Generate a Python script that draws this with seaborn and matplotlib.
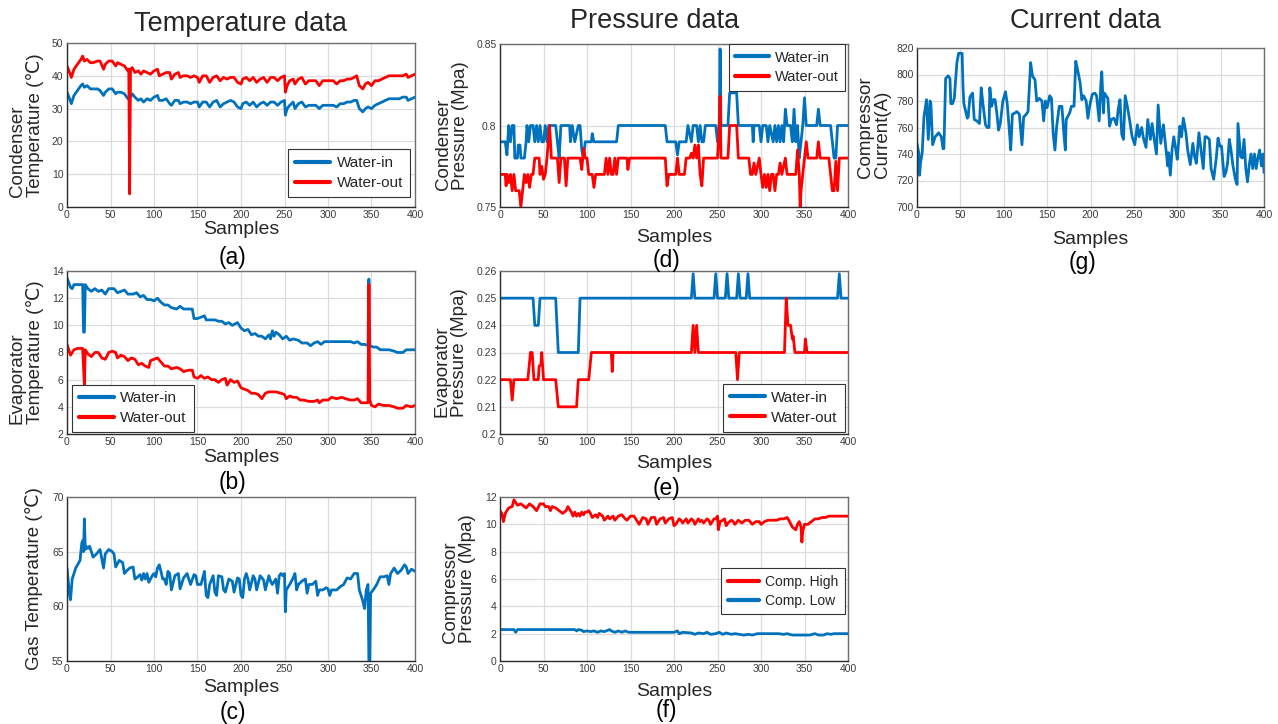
import matplotlib
matplotlib.use("Agg")
import matplotlib.pyplot as plt
import seaborn as sns

sns.set_theme(style="whitegrid")
plt.rcParams['font.family'] = ['Liberation Sans', 'DejaVu Sans']

BLUE = "#0072BD"
RED = "#FF0000"

# ---------------- (a) condenser temperature ----------------
cond_t_in_x = [0,3,5,8,12,16,18,20,23,27,30,35,38,42,44,48,52,56,58,62,66,70,72,75,78,82,85,88,92,96,
               100,104,106,110,114,118,120,124,128,130,134,138,142,146,150,152,156,160,164,168,172,176,
               180,184,188,192,196,200,202,206,210,214,218,222,226,230,234,238,242,246,250,251,253,256,
               260,262,266,270,274,278,282,286,290,294,298,302,306,310,314,318,322,326,330,333,336,340,
               343,346,350,354,358,362,366,370,374,378,382,386,390,392,396,400]
cond_t_in_y = [35,33,31.5,34,35.5,37,37.5,36.5,37,36,36,36,35.5,34,35,36,36,34.5,35,35,34.5,33,33,34.5,
               33.5,32.5,33,32,33,32.5,33.5,34,32.5,32.5,33,31.5,31,32.5,32.5,31.5,32,32,31.5,32,32,30.5,
               32,32,30.5,32,32.5,30.5,31.5,32,32.5,32,30.5,30,31.5,32,31,32,30.5,31.5,32,31,32,32,31,32,
               32.5,28,30,31,32,30,31.5,32,30.5,31,31,31,30,31,31,31,31,30.5,31.5,31.5,32,32,32.5,32.5,30,
               29,30,30.5,30,31,31.5,32,32.5,33,33,33,33,33.5,33.5,32.5,33,33.5]
cond_t_out_x = [0,3,5,8,12,16,18,20,23,27,30,35,38,42,44,48,52,56,58,62,66,70,71,72,73,75,78,82,85,88,
                92,96,100,104,106,110,114,118,120,124,128,130,134,138,142,146,150,152,156,160,164,168,
                172,176,180,184,188,192,196,200,202,206,210,214,218,222,226,230,234,238,242,246,250,251,
                253,256,260,262,266,270,274,278,282,286,290,294,298,302,306,310,314,318,322,326,330,333,
                336,340,343,346,350,354,358,362,366,370,374,378,382,386,390,392,396,400]
cond_t_out_y = [43,41,39.5,42,43.5,45,46,44.5,45,44,44,44.5,44.5,42,43.5,44.5,44.5,43,44,43.5,43,41.5,42,4,
                42,42.5,41,41.5,40.5,41.5,41,40.5,41.5,42,40,40.5,41,41,39,40.5,41,39.5,40,40,39.5,40,39.5,
                38,40,40,38,39.5,40,38.5,39.5,39,39.5,39.5,38,37.5,39,39.5,38.5,39.5,38,39,39.5,38,39.5,
                39.5,38.5,39.5,40,35,37,38.5,39,37.5,39,39.5,37.5,38.5,38.5,38.5,37,38.5,38.5,38.5,38.5,
                37.5,38.5,38.5,39,39,39.5,40,37,36,37.5,38,37,38.5,38.5,39,39.5,40,40,40,40,40,40.5,39.5,
                40,40.5]

# ---------------- (b) evaporator temperature ----------------
evap_t_in_x = [0,4,6,8,18,19,20,21,24,28,32,36,40,44,48,54,58,62,66,70,76,80,84,88,92,96,100,104,108,112,
               116,120,126,130,134,140,144,146,150,154,158,160,166,170,174,178,182,186,190,196,200,204,
               208,212,216,220,224,228,232,234,236,238,240,244,248,252,256,260,266,270,276,280,284,288,
               292,296,300,310,320,326,330,334,338,342,346,347,348,352,356,360,370,376,380,386,390,400]
evap_t_in_y = [13.5,12.8,12.7,13,13,9.5,9.5,13,12.7,12.5,12.7,12.5,12.6,12.3,12.7,12.7,12.4,12.5,12.6,12.3,
               12.3,12.4,12.1,12.2,11.9,11.9,11.8,12,11.7,11.5,11.5,11.3,11.2,11.4,11.2,11.2,11.2,10.5,
               10.5,10.6,10.7,10.4,10.4,10.4,10.3,10.3,10.1,10.2,10.0,10.2,9.8,9.6,9.7,9.3,9.4,9.2,9.2,9.0,
               9.3,9.0,9.6,9.2,9.5,9.3,9.0,9.2,8.9,9.0,8.9,8.7,8.7,8.5,8.7,8.8,8.6,8.8,8.8,8.8,8.8,8.8,8.7,
               8.8,8.6,8.6,8.5,13.4,8.5,8.4,8.4,8.2,8.2,8.1,8.0,8.0,8.2,8.2]
evap_t_out_x = [0,4,8,12,18,20,21,24,28,32,36,40,44,48,52,56,58,62,66,70,74,78,82,86,90,94,96,100,104,108,
                112,116,120,126,130,134,140,144,146,150,154,158,162,166,170,174,178,182,184,188,192,196,
                200,204,208,212,216,220,224,228,232,240,246,250,252,256,260,264,268,272,278,284,288,290,
                294,300,304,310,316,320,326,330,334,338,342,346,347,348,350,354,358,364,370,376,380,386,
                390,396,400]
evap_t_out_y = [8.6,7.8,8.2,8.3,8.3,5.6,8.2,7.9,7.7,8.0,8.0,7.6,7.5,8.0,8.1,8.0,7.6,7.8,7.7,7.4,7.6,7.5,7.1,
                7.2,7.0,6.9,7.4,7.5,7.6,7.3,7.0,7.0,6.8,6.9,6.8,6.6,6.7,6.7,6.2,6.1,6.3,6.1,6.2,6.0,6.0,5.8,
                6.0,6.1,5.6,6.0,5.8,5.9,5.4,5.3,5.2,5.0,5.0,4.9,4.6,5.0,5.1,5.1,5.0,4.9,4.6,4.8,4.7,4.7,4.5,
                4.5,4.4,4.4,4.5,4.3,4.5,4.5,4.7,4.6,4.7,4.6,4.5,4.5,4.6,4.3,4.3,4.3,13.0,4.5,4.1,4.0,4.2,4.1,
                4.1,4.0,3.9,3.9,4.1,4.0,4.1]

# ---------------- (c) gas temperature ----------------
gas_t_x = [0,3,4,6,10,15,17,18,19,20,21,22,24,26,30,34,38,42,44,48,52,54,56,60,64,66,68,72,76,78,80,84,86,
           88,90,92,94,98,100,102,104,106,108,110,112,114,116,118,120,124,128,130,134,138,140,142,146,148,
           150,154,158,160,162,164,168,170,172,174,178,180,182,186,190,192,196,198,200,202,204,206,208,210,
           214,216,218,222,226,228,232,234,236,240,242,244,246,248,250,251,252,256,260,262,264,266,270,274,
           276,278,282,286,288,290,294,298,300,302,304,310,314,318,322,326,330,334,336,340,342,344,346,347,
           348,349,352,356,360,364,368,370,372,376,380,384,388,390,392,396,400]
gas_t_y = [63.5,61,60.6,62.5,63.5,64.2,65.8,66,65,68,65.2,65.5,65.3,65.5,64.5,64.8,65.2,63.5,64.8,65.2,65.0,
           64.8,63.6,64.2,64.0,63.0,63.2,63.5,63.6,62.5,62.6,62.9,62.4,63.0,62.5,63.0,62.2,62.8,63.0,62.7,
           63.5,63.8,63.2,62.5,62.5,62.0,63.2,63.0,61.5,62.8,63.0,61.6,62.6,63.0,62.5,62.0,62.9,62.8,62.0,
           62.0,63.2,61.0,60.8,62.0,62.8,61.3,61.0,62.8,62.7,61.5,61.3,62.5,62.3,61.3,62.6,62.5,61.0,60.8,
           62.5,63.0,62.5,61.5,62.8,62.5,61.5,62.8,62.4,61.5,62.8,62.3,62.0,62.5,61.2,62.8,63.0,62.8,63.0,
           59.5,61.5,62.0,62.6,63.0,61.5,62.0,62.3,62.5,61.2,62.0,62.0,62.3,61.0,61.5,61.5,61.7,61.6,61.0,
           61.5,61.5,61.8,62.0,62.6,62.5,63.0,63.0,61.5,60.5,59.8,61.5,62.0,55.0,55.0,61.2,61.5,62.0,62.7,
           62.7,62.8,62.0,63.0,63.5,63.0,63.3,63.8,63.6,63.0,63.4,63.2]

# ---------------- (d) condenser pressure ----------------
cond_p_in_x = [0,6,8,10,12,14,16,17,20,21,23,24,28,30,31,33,35,38,40,42,44,46,48,50,52,54,56,64,66,68,70,
               80,81,83,86,90,92,94,96,98,105,106,108,134,136,190,192,202,204,206,214,216,220,222,226,228,
               230,232,234,236,248,250,252,253,254,262,264,272,274,290,291,292,298,300,302,306,308,310,314,
               316,318,320,322,324,326,328,330,334,336,338,340,342,344,346,348,350,352,364,366,368,380,382,
               384,386,388,400]
cond_p_in_y = [0.79,0.79,0.782,0.80,0.79,0.80,0.80,0.78,0.78,0.788,0.788,0.78,0.78,0.79,0.80,0.79,0.80,0.80,
               0.79,0.80,0.79,0.80,0.79,0.79,0.80,0.79,0.80,0.80,0.79,0.78,0.80,0.80,0.79,0.80,0.79,0.80,
               0.80,0.785,0.78,0.79,0.79,0.795,0.79,0.79,0.80,0.80,0.79,0.79,0.782,0.79,0.79,0.80,0.79,0.80,
               0.80,0.79,0.80,0.79,0.79,0.80,0.80,0.79,0.80,0.847,0.80,0.80,0.82,0.82,0.80,0.80,0.79,0.80,
               0.80,0.79,0.80,0.80,0.79,0.80,0.79,0.80,0.79,0.80,0.79,0.80,0.79,0.81,0.80,0.80,0.79,0.81,
               0.79,0.80,0.78,0.79,0.80,0.817,0.80,0.80,0.81,0.80,0.80,0.79,0.78,0.78,0.80,0.80]
cond_p_out_x = [0,6,7,8,10,12,14,16,18,22,24,26,28,30,32,34,36,38,40,45,46,48,50,52,54,57,59,66,68,70,74,
                76,78,92,94,96,98,100,102,106,108,110,120,122,124,126,128,130,132,134,136,146,147,149,190,
                192,194,202,204,206,212,214,218,220,222,224,226,228,230,232,234,250,252,253,254,262,264,
                272,274,286,288,290,292,294,298,300,302,304,306,308,310,312,314,316,318,320,322,324,328,
                330,340,342,344,345,346,348,350,352,354,364,366,368,378,380,382,384,386,388,390,400]
cond_p_out_y = [0.77,0.77,0.763,0.77,0.765,0.77,0.76,0.77,0.76,0.76,0.75,0.76,0.77,0.765,0.77,0.762,0.77,
                0.77,0.78,0.78,0.77,0.775,0.767,0.77,0.78,0.80,0.78,0.78,0.765,0.78,0.78,0.763,0.78,0.78,
                0.773,0.786,0.78,0.78,0.77,0.77,0.762,0.77,0.77,0.78,0.77,0.78,0.77,0.77,0.78,0.77,0.78,
                0.78,0.773,0.78,0.78,0.763,0.77,0.77,0.78,0.77,0.77,0.78,0.78,0.783,0.78,0.788,0.78,0.788,
                0.77,0.763,0.78,0.78,0.80,0.818,0.78,0.78,0.80,0.80,0.78,0.78,0.77,0.77,0.777,0.77,0.78,
                0.77,0.762,0.77,0.762,0.77,0.76,0.77,0.77,0.76,0.77,0.77,0.777,0.77,0.78,0.77,0.77,0.785,
                0.77,0.75,0.76,0.77,0.78,0.79,0.78,0.78,0.79,0.78,0.78,0.77,0.76,0.76,0.778,0.76,0.78,0.78]

# ---------------- (e) evaporator pressure ----------------
evap_p_in_x = [0,38,40,44,46,64,67,90,92,220,222,224,246,248,250,259,261,263,272,274,276,283,285,287,388,
               390,392,400]
evap_p_in_y = [0.25,0.25,0.24,0.24,0.25,0.25,0.23,0.23,0.25,0.25,0.259,0.25,0.25,0.259,0.25,0.25,0.259,
               0.25,0.25,0.259,0.25,0.25,0.259,0.25,0.25,0.259,0.25,0.25]
evap_p_out_x = [0,12,14,16,32,35,37,39,44,45,47,48,50,64,67,88,90,102,105,128,129,130,220,222,224,226,228,
                271,273,275,327,329,331,334,336,337,339,350,351,353,400]
evap_p_out_y = [0.22,0.22,0.2125,0.22,0.22,0.23,0.23,0.22,0.22,0.225,0.2255,0.23,0.22,0.22,0.21,0.21,0.22,
                0.22,0.23,0.23,0.223,0.23,0.23,0.24,0.23,0.24,0.23,0.23,0.22,0.23,0.23,0.25,0.24,0.24,
                0.235,0.236,0.23,0.23,0.235,0.23,0.23]

# ---------------- (f) compressor pressure ----------------
comp_high_x = [0,2,4,6,10,14,16,18,20,24,28,30,34,38,42,46,50,52,56,58,60,64,68,72,76,78,82,84,86,88,90,92,
               94,96,98,100,102,104,106,110,112,114,118,120,124,126,130,132,136,140,144,146,150,154,158,160,
               164,168,170,174,178,180,184,188,190,194,198,200,202,206,208,210,214,216,220,222,224,228,230,
               232,234,238,240,242,246,248,250,251,253,256,258,260,262,266,268,270,274,276,278,282,286,290,
               294,298,300,304,308,312,318,322,326,330,332,336,340,342,344,346,347,348,350,354,358,362,366,
               370,374,378,400]
comp_high_y = [11,10.8,10.2,10.8,11.2,11.3,11.8,11.6,11.4,11.5,11.3,11.2,11.5,11.3,11.0,11.5,11.5,11.3,11.3,
               11.0,11.3,11.2,11.0,10.8,11.0,11.3,10.9,10.6,10.9,10.6,10.8,10.6,10.9,10.7,10.9,10.9,11.0,
               10.8,10.5,10.7,10.5,10.8,10.6,10.3,10.6,10.4,10.6,10.3,10.6,10.7,10.4,10.3,10.6,10.6,10.2,
               10.0,10.5,10.4,10.0,10.5,10.5,10.0,10.4,10.5,10.1,10.4,10.5,9.9,10.0,10.4,10.3,10.1,10.4,
               10.1,10.4,10.3,10.0,10.4,10.2,10.3,10.1,10.4,10.3,10.0,10.4,10.4,10.6,9.6,10.2,10.3,10.4,
               9.9,10.1,10.3,10.2,10.0,10.3,10.2,10.1,10.3,10.3,10.0,10.2,10.2,10.0,10.2,10.3,10.3,10.3,
               10.4,10.4,10.5,10.3,9.8,9.6,10.0,10.2,9.8,8.7,9.5,10.0,10.0,10.2,10.4,10.4,10.5,10.5,10.6,
               10.6]
comp_low_x = [0,16,18,20,80,86,88,90,94,96,100,104,108,112,116,120,124,126,128,132,136,140,144,148,160,180,
              200,204,206,210,220,224,228,234,238,242,248,252,256,260,266,270,280,286,290,296,300,310,320,
              326,330,336,346,356,362,366,372,376,380,384,400]
comp_low_y = [2.3,2.3,2.1,2.3,2.3,2.3,2.2,2.3,2.25,2.15,2.2,2.15,2.2,2.1,2.2,2.15,2.25,2.3,2.2,2.1,2.2,2.1,
              2.2,2.1,2.1,2.1,2.1,2.2,2.0,2.1,2.05,1.95,2.05,2.0,2.1,1.95,2.0,2.1,1.95,2.05,1.95,2.0,1.9,
              1.95,1.9,2.0,2.0,2.0,2.0,1.95,2.0,1.9,1.9,1.9,2.0,1.9,1.9,2.0,1.95,2.0,2.0]

# ---------------- (g) compressor current ----------------
current_x = [0,2,3,4,6,8,11,13,15,16,18,21,25,28,30,31,33,36,38,39,41,43,46,48,52,53,54,58,59,61,
             64,66,69,72,74,76,79,81,83,84,86,88,90,92,94,96,99,102,104,107,108,110,113,115,118,121,123,
             126,128,131,133,136,138,141,144,146,148,150,153,155,157,159,161,164,167,169,171,172,176,178,
             181,183,185,188,190,192,195,197,199,202,205,207,210,212,213,215,216,220,222,224,227,230,232,
             234,236,238,240,243,245,248,251,254,256,259,261,264,266,269,271,273,276,278,281,284,285,289,
             290,292,294,296,298,300,303,305,307,310,312,315,318,320,322,325,328,330,332,334,337,339,342,
             345,347,349,351,354,356,358,360,362,364,367,369,370,373,375,377,379,381,383,385,387,389,391,
             393,395,397,399,400]
current_y = [748,741,724,733,741,768,781,751,780,778,747,753,756,753,744,744,797,799,797,778,778,782,809,816,
             816,791,778,767,768,783,786,766,765,763,790,778,762,760,760,790,776,781,781,771,758,763,780,787,
             778,753,743,770,771,772,770,747,768,770,772,809,799,796,780,782,780,765,780,775,784,782,755,743,
             761,776,776,758,743,766,771,776,776,810,804,794,781,784,780,767,776,785,786,784,765,794,802,771,
             786,782,761,766,767,762,774,781,755,751,784,774,766,753,747,762,753,760,752,745,766,751,763,753,
             740,777,748,762,756,731,741,724,743,753,745,736,761,753,767,756,743,732,748,738,733,756,740,729,
             753,753,751,729,721,737,752,746,746,723,726,733,751,743,732,721,717,763,738,737,751,729,719,732,
             740,729,740,729,737,743,731,740,726]

x_ticks = [0, 50, 100, 150, 200, 250, 300, 350, 400]
x_tick_labels = [str(t) for t in x_ticks]

W, H = 1278, 724
fig = plt.figure(figsize=(W / 100, H / 100), dpi=100)
fig.patch.set_facecolor("white")


def px_rect(left, top, right, bottom):
    return [left / W, 1 - bottom / H, (right - left) / W, (bottom - top) / H]


def new_axes(box):
    ax = fig.add_axes(px_rect(*box))
    ax.set_facecolor("white")
    return ax


def draw(ax, x, y, color, label=None):
    sns.lineplot(x=x, y=y, ax=ax, color=color, linewidth=2.0, estimator=None,
                 sort=False, label=label, legend=label is not None)


def style(ax, box, ylim, yticks, yticklabels, ylabel, ylabel_right_px):
    ax.set_xlim(0, 400)
    ax.set_xticks(x_ticks)
    ax.set_xticklabels(x_tick_labels)
    ax.set_ylim(*ylim)
    ax.set_yticks(yticks)
    ax.set_yticklabels(yticklabels)
    ax.grid(True, color="#dcdcdc", linewidth=0.9)
    ax.tick_params(direction="in", length=3, width=0.6, labelsize=7.5,
                   colors="#3a3a3a", pad=2.5)
    for side, sp in ax.spines.items():
        sp.set_visible(True)
        sp.set_linewidth(1.0)
        sp.set_color("#2b2b2b" if side in ("left", "bottom") else "#6e6e6e")
    ax.set_xlabel("")
    left, top, right, bottom = box
    ax.set_ylabel(ylabel, fontsize=13.5, color="#262626", linespacing=1.0,
                  multialignment="left")
    lab = ax.yaxis.label
    lab.set_rotation_mode("default")
    lab.set_horizontalalignment("right")
    lab.set_verticalalignment("center")
    ax.yaxis.set_label_coords((ylabel_right_px - left) / (right - left), 0.5)


def caption(box, samples_y, letter, letter_y):
    left, top, right, bottom = box
    cx = (left + right) / 2
    fig.text(cx / W, 1 - samples_y / H, "Samples", fontsize=14, ha="center",
             va="center", color="#262626")
    fig.text((cx - 8) / W, 1 - letter_y / H, letter, fontsize=16.5, ha="center",
             va="center", color="black")


def legend(ax, loc, anchor, size=11):
    leg = ax.legend(loc=loc, bbox_to_anchor=anchor, fontsize=size, frameon=True,
                    fancybox=False, edgecolor="#333333", framealpha=1,
                    handlelength=2.3, borderpad=0.45, labelspacing=0.4,
                    handletextpad=0.4, borderaxespad=0)
    leg.get_frame().set_linewidth(0.8)
    for ln in leg.get_lines():
        ln.set_linewidth(3.0)


# column headers
fig.text(240 / W, 1 - 24 / H, "Temperature data", fontsize=19.5, ha="center", va="center")
fig.text(655 / W, 1 - 21 / H, "Pressure data", fontsize=19.5, ha="center", va="center")
fig.text(1085 / W, 1 - 21 / H, "Current data", fontsize=19.5, ha="center", va="center")

# (a)
box_a = (67, 43, 415, 207)
ax = new_axes(box_a)
draw(ax, cond_t_in_x, cond_t_in_y, BLUE, "Water-in")
draw(ax, cond_t_out_x, cond_t_out_y, RED, "Water-out")
style(ax, box_a, (0, 50), [0, 10, 20, 30, 40, 50], ["0", "10", "20", "30", "40", "50"],
      "Condenser\nTemperature (\u2103)", 44)
legend(ax, "lower right", (0.985, 0.06))
caption(box_a, 230, "(a)", 258)

# (b)
box_b = (67, 271, 415, 434)
ax = new_axes(box_b)
draw(ax, evap_t_in_x, evap_t_in_y, BLUE, "Water-in")
draw(ax, evap_t_out_x, evap_t_out_y, RED, "Water-out")
style(ax, box_b, (2, 14), [2, 4, 6, 8, 10, 12, 14], ["2", "4", "6", "8", "10", "12", "14"],
      "Evaporator\nTemperature (\u2103)", 44)
legend(ax, "lower left", (0.015, 0.01))
caption(box_b, 457, "(b)", 482)

# (c)
box_c = (67, 497, 415, 661)
ax = new_axes(box_c)
draw(ax, gas_t_x, gas_t_y, BLUE)
style(ax, box_c, (55, 70), [55, 60, 65, 70], ["55", "60", "65", "70"],
      "Gas Temperature (\u2103)", 43)
caption(box_c, 688, "(c)", 712)

# (d)
box_d = (500, 44, 848, 207)
ax = new_axes(box_d)
draw(ax, cond_p_in_x, cond_p_in_y, BLUE, "Water-in")
draw(ax, cond_p_out_x, cond_p_out_y, RED, "Water-out")
style(ax, box_d, (0.75, 0.85), [0.75, 0.80, 0.85], ["0.75", "0.8", "0.85"],
      "Condenser\nPressure (Mpa)", 469)
legend(ax, "upper right", (0.992, 1.0), size=10.5)
caption(box_d, 237, "(d)", 261)

# (e)
box_e = (500, 271, 848, 434)
ax = new_axes(box_e)
draw(ax, evap_p_in_x, evap_p_in_y, BLUE, "Water-in")
draw(ax, evap_p_out_x, evap_p_out_y, RED, "Water-out")
style(ax, box_e, (0.2, 0.26), [0.2, 0.21, 0.22, 0.23, 0.24, 0.25, 0.26],
      ["0.2", "0.21", "0.22", "0.23", "0.24", "0.25", "0.26"],
      "Evaporator\nPressure (Mpa)", 468)
legend(ax, "lower right", (0.99, 0.015))
caption(box_e, 464, "(e)", 488)

# (f)
box_f = (500, 497, 848, 661)
ax = new_axes(box_f)
draw(ax, comp_high_x, comp_high_y, RED, "Comp. High")
draw(ax, comp_low_x, comp_low_y, BLUE, "Comp. Low")
style(ax, box_f, (0, 12), [0, 2, 4, 6, 8, 10, 12], ["0", "2", "4", "6", "8", "10", "12"],
      "Compressor\nPressure (Mpa)", 476)
legend(ax, "upper right", (0.99, 0.565), size=10)
caption(box_f, 691, "(f)", 711)

# (g)
box_g = (917, 48, 1264, 207)
ax = new_axes(box_g)
draw(ax, current_x, current_y, BLUE)
style(ax, box_g, (700, 820), [700, 720, 740, 760, 780, 800, 820],
      ["700", "720", "740", "760", "780", "800", "820"],
      "Compressor\nCurrent(A)", 891)
caption(box_g, 239, "(g)", 262)

fig.savefig("out.png", dpi=100, facecolor="white")
